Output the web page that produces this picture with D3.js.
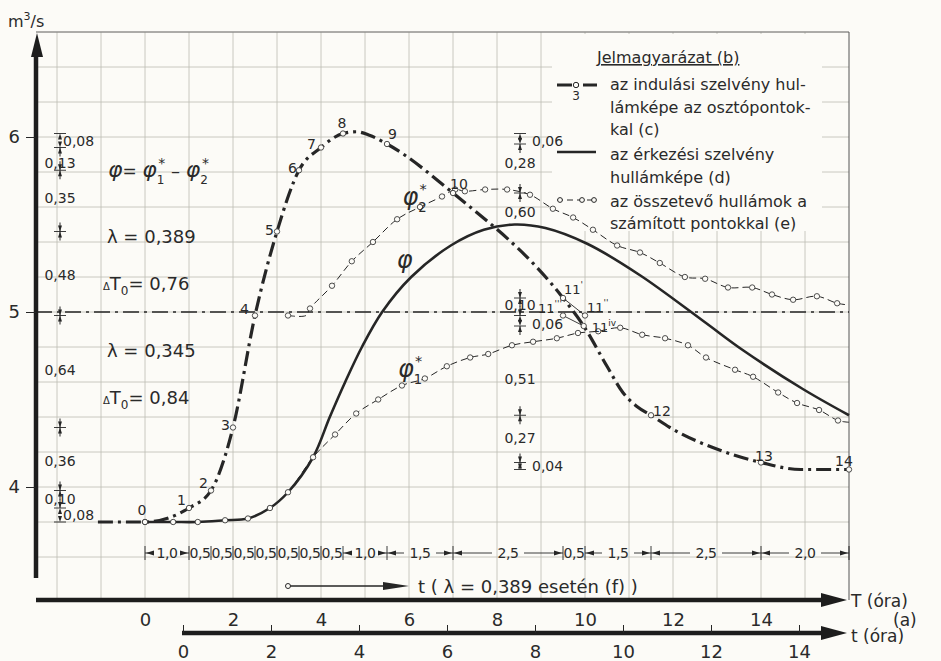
<!DOCTYPE html>
<html>
<head>
<meta charset="utf-8">
<script src="https://cdn.jsdelivr.net/npm/d3@7"></script>
<style>
  body { margin: 0; background: #fcfbf7; }
  text { font-family: "DejaVu Sans", sans-serif; fill: #2a2a2a; }
</style>
</head>
<body>
<div id="chart"></div>
<script>
// values: T in hours, Q in m3/s

// (c) wave of the starting section, division points 0..14 ("" = curve node only)
var cT   = [-1.07, 0, 1, 1.5, 2, 2.5, 3, 3.5, 4, 4.5, 4.8, 5.1, 5.5, 7, 9.5, 9.97, 10.5, 10.86, 11.18, 11.5, 11.93, 13.07, 14, 14.9, 16];
var cQ   = [3.80, 3.80, 3.88, 3.98, 4.34, 4.98, 5.46, 5.81, 5.94, 6.02, 6.03, 6.01, 5.96, 5.68, 5.08, 4.92, 4.69, 4.54, 4.46, 4.41, 4.34, 4.21, 4.14, 4.10, 4.10];
var cLab = ["", "0", "1", "2", "3", "4", "5", "6", "7", "8", "", "", "9", "10", "", "", "", "", "", "12", "", "", "13", "", "14"];

// alternative positions of division point 11
var c11T   = [9.5, 10.0, 9.5, 9.97];
var c11Q   = [5.08, 4.98, 4.98, 4.92];
var c11Sup = ["'", "''", "'''", "iv"];

// (d) wave of the arriving section
var dT = [0, 0.64, 1.2, 1.82, 2.34, 2.84, 3.25, 3.82, 4.2, 4.55, 4.93, 5.39, 6.05, 6.95, 7.7, 8.4, 9.1, 10.05, 11.25, 12.68, 13.6, 14.95, 16];
var dQ = [3.80, 3.80, 3.80, 3.81, 3.82, 3.88, 3.97, 4.17, 4.40, 4.60, 4.80, 5.00, 5.20, 5.38, 5.47, 5.50, 5.48, 5.39, 5.21, 4.95, 4.78, 4.56, 4.41];

// (e) component waves with computed points
var p1T = [0, 0.64, 1.2, 1.82, 2.34, 2.84, 3.25, 3.82, 4.32, 4.80, 5.30, 5.84, 6.36, 6.86, 7.39, 7.80, 8.34, 8.82, 9.36, 9.84, 10.30, 10.80, 11.30, 11.82, 12.34, 12.75, 13.41, 13.82, 14.39, 14.82, 15.32, 15.75, 16];
var p1Q = [3.80, 3.80, 3.80, 3.81, 3.82, 3.88, 3.97, 4.17, 4.30, 4.42, 4.50, 4.58, 4.62, 4.69, 4.74, 4.76, 4.81, 4.83, 4.85, 4.88, 4.89, 4.91, 4.87, 4.85, 4.81, 4.74, 4.67, 4.63, 4.54, 4.48, 4.44, 4.38, 4.37];
var p2T = [3.25, 3.66, 3.75, 4.25, 4.70, 5.18, 5.73, 6.25, 6.75, 7.05, 7.27, 7.73, 8.23, 8.75, 9.27, 9.73, 10.18, 10.73, 11.25, 11.70, 12.27, 12.73, 13.25, 13.80, 14.25, 14.73, 15.27, 15.73, 16];
var p2Q = [4.98, 4.98, 5.02, 5.15, 5.29, 5.40, 5.53, 5.60, 5.66, 5.70, 5.69, 5.70, 5.70, 5.67, 5.59, 5.54, 5.47, 5.38, 5.34, 5.28, 5.20, 5.19, 5.14, 5.14, 5.10, 5.07, 5.09, 5.05, 5.04];

// dimension marks (left column and middle column)
var leftLevels = [6.02, 5.94, 5.81, 5.46, 4.98, 4.34, 3.98, 3.88, 3.80];
var leftLabels = ["0,08", "0,13", "0,35", "0,48", "0,64", "0,36", "0,10", "0,08"];
var leftLabelQ = [5.98, 5.85, 5.65, 5.21, 4.67, 4.15, 3.93, 3.84];
var midLevels  = [6.02, 5.96, 5.68, 5.08, 4.98, 4.92, 4.41, 4.14, 4.10];
var midLabels  = ["0,06", "0,28", "0,60", "0,10", "0,06", "0,51", "0,27", "0,04"];
var midLabelQ  = [5.98, 5.85, 5.57, 5.04, 4.93, 4.62, 4.28, 4.12];

// time steps between division points
var stepLen    = [1, 0.5, 0.5, 0.5, 0.5, 0.5, 0.5, 0.5, 1, 1.5, 2.5, 0.5, 1.5, 2.5, 2];
var stepLabels = ["1,0", "0,5", "0,5", "0,5", "0,5", "0,5", "0,5", "0,5", "1,0", "1,5", "2,5", "0,5", "1,5", "2,5", "2,0"];

// axis ticks
var qTicks = [4, 5, 6];
var TTicks = [0, 2, 4, 6, 8, 10, 12, 14];
var tTicks = [0, 2, 4, 6, 8, 10, 12, 14];

var ink = "#262626";
var W = 941, H = 661;

var svg = d3.select("#chart").append("svg")
    .attr("width", W).attr("height", H)
    .style("background", "#fcfbf7");

var x  = d3.scaleLinear().domain([0, 16]).range([145, 849]);
var y  = d3.scaleLinear().domain([4, 6]).range([487, 137]);
var xt = d3.scaleLinear().domain([0, 16]).range([183, 887]);

var yTop = y(6.6), axisY = 600, tAxisY = 633, yAxisX = 36;

// grid
var grid = svg.append("g").attr("stroke", "#bdbcb3").attr("stroke-width", 0.8);
d3.range(-2, 16).forEach(function(t) {
  grid.append("line").attr("x1", x(t)).attr("x2", x(t)).attr("y1", yTop).attr("y2", axisY);
});
d3.range(18, 34).forEach(function(k) {
  var v = k / 5;
  grid.append("line").attr("x1", yAxisX).attr("x2", x(16)).attr("y1", y(v)).attr("y2", y(v));
});
svg.append("line").attr("x1", yAxisX).attr("x2", x(16)).attr("y1", yTop).attr("y2", yTop)
  .attr("stroke", "#777").attr("stroke-width", 1);
svg.append("line").attr("x1", x(16)).attr("x2", x(16)).attr("y1", yTop).attr("y2", axisY)
  .attr("stroke", "#555").attr("stroke-width", 1);

// legend background
svg.append("rect").attr("x", 552).attr("y", yTop + 2).attr("width", 270).attr("height", 197)
  .attr("fill", "#fcfbf7");

// Q = 5 reference line
svg.append("line").attr("x1", yAxisX).attr("x2", x(16)).attr("y1", y(5)).attr("y2", y(5))
  .attr("stroke", ink).attr("stroke-width", 1.3).attr("stroke-dasharray", "16,5,3,5");

var smooth = d3.line()
  .x(function(d) { return x(d[0]); })
  .y(function(d) { return y(d[1]); })
  .curve(d3.curveCatmullRom.alpha(0.5));
var mono = d3.line()
  .x(function(d) { return x(d[0]); })
  .y(function(d) { return y(d[1]); })
  .curve(d3.curveMonotoneX);

function pairs(a, b) { return a.map(function(v, i) { return [v, b[i]]; }); }

// component waves (dashed)
var p1 = pairs(p1T, p1Q), p2 = pairs(p2T, p2Q);
[p1, p2].forEach(function(p) {
  svg.append("path").datum(p).attr("d", smooth)
    .attr("fill", "none").attr("stroke", ink).attr("stroke-width", 1)
    .attr("stroke-dasharray", "7,4");
});

// arriving wave (solid)
svg.append("path").datum(pairs(dT, dQ)).attr("d", smooth)
  .attr("fill", "none").attr("stroke", ink).attr("stroke-width", 2.6);

// starting wave (dash-dot)
var cp = pairs(cT, cQ);
svg.append("path").datum(cp).attr("d", mono)
  .attr("fill", "none").attr("stroke", ink).attr("stroke-width", 3.2)
  .attr("stroke-dasharray", "15,5,3,5");

// point 11 alternatives with their connectors
svg.append("line").attr("x1", x(c11T[0])).attr("y1", y(c11Q[0])).attr("x2", x(c11T[1])).attr("y2", y(c11Q[1]))
  .attr("stroke", ink).attr("stroke-width", 0.9);
svg.append("line").attr("x1", x(c11T[2])).attr("y1", y(c11Q[2])).attr("x2", x(c11T[3])).attr("y2", y(c11Q[3]))
  .attr("stroke", ink).attr("stroke-width", 0.9);

// circles
function dots(data) {
  svg.append("g").selectAll("circle").data(data).enter().append("circle")
    .attr("cx", function(d) { return x(d[0]); })
    .attr("cy", function(d) { return y(d[1]); })
    .attr("r", 2.7).attr("fill", "#fcfbf7").attr("stroke", "#3a3a3a").attr("stroke-width", 0.9);
}
dots(p1.slice(0, p1.length - 1));
dots(p2.filter(function(d, i) { return i !== 1 && i !== p2.length - 1; }));
dots(cp.filter(function(d, i) { return cLab[i] !== ""; }));
dots(pairs(c11T, c11Q));

// point numbers
var labPos = {"0": [-3, -7, "middle"], "1": [-3, -3, "end"], "2": [-3, -3, "end"], "3": [-3, 2, "end"],
  "4": [-6, -2, "end"], "5": [-3, 3, "end"], "6": [-2, 3, "end"], "7": [-5, 1, "end"],
  "8": [-1, -6, "middle"], "9": [1, -5, "start"], "10": [-3, -4, "start"], "12": [2, 1, "start"],
  "13": [-6, -2, "start"], "14": [-5, -4, "middle"]};
svg.append("g").selectAll("text").data(cp.filter(function(d, i) { return cLab[i] !== ""; })).enter()
  .append("text")
  .each(function(d) {
    var lab = cLab[cp.indexOf(d)], o = labPos[lab];
    d3.select(this).attr("x", x(d[0]) + o[0]).attr("y", y(d[1]) + o[1])
      .attr("text-anchor", o[2]).text(lab);
  })
  .attr("font-size", 14);

var supPos = [[1, -4, "start"], [2, -4, "start"], [-1, -3, "end"], [8, 6, "start"]];
c11T.forEach(function(t, i) {
  var o = supPos[i];
  var tx = svg.append("text").attr("x", x(t) + o[0]).attr("y", y(c11Q[i]) + o[1])
    .attr("text-anchor", o[2]).attr("font-size", 13);
  tx.append("tspan").text("11");
  tx.append("tspan").attr("dy", -6).attr("font-size", 9).text(c11Sup[i]);
});

// curve names
function phi(xp, yp, sub, size) {
  var t = svg.append("text").attr("x", xp).attr("y", yp).attr("font-size", size);
  t.append("tspan").attr("font-style", "italic").text("φ");
  if (sub) {
    t.append("tspan").attr("dy", size * 0.3).attr("font-size", size * 0.55).text(sub);
    t.append("tspan").attr("dy", -size * 0.75).attr("dx", -size * 0.3).attr("font-size", size * 0.6).text("*");
  }
  return t;
}
phi(x(5.85), y(5.61), "2", 24);
phi(x(5.72), y(5.25), null, 24);
phi(x(5.75), y(4.63), "1", 24);

// formula and parameters
var f = svg.append("text").attr("x", 108).attr("y", 177).attr("font-size", 22);
f.append("tspan").attr("font-style", "italic").text("φ");
f.append("tspan").attr("font-size", 17).text("= ");
f.append("tspan").attr("font-style", "italic").text("φ");
f.append("tspan").attr("dy", 7).attr("font-size", 12).text("1");
f.append("tspan").attr("dy", -16).attr("dx", -6).attr("font-size", 14).text("*");
f.append("tspan").attr("dy", 9).attr("font-size", 18).text(" – ");
f.append("tspan").attr("font-style", "italic").text("φ");
f.append("tspan").attr("dy", 7).attr("font-size", 12).text("2");
f.append("tspan").attr("dy", -16).attr("dx", -6).attr("font-size", 14).text("*");

function param(yp, lam, dt) {
  svg.append("text").attr("x", 107).attr("y", yp).attr("font-size", 18).text("λ = " + lam);
  var t = svg.append("text").attr("x", 103).attr("y", yp + 47).attr("font-size", 18);
  t.append("tspan").attr("font-size", 10).text("Δ");
  t.append("tspan").text("T");
  t.append("tspan").attr("dy", 5).attr("font-size", 12).text("0");
  t.append("tspan").attr("dy", -5).text("= " + dt);
}
param(243, "0,389", "0,76");
param(357, "0,345", "0,84");

// vertical dimension marks
function vDims(xp, levels, labels, labelQ, smallDx) {
  var g = svg.append("g");
  levels.forEach(function(v) {
    g.append("line").attr("x1", xp - 6).attr("x2", xp + 6).attr("y1", y(v)).attr("y2", y(v))
      .attr("stroke", ink).attr("stroke-width", 0.9);
  });
  for (var i = 0; i < labels.length; i++) {
    var ya = y(levels[i]), yb = y(levels[i + 1]);
    g.append("path").attr("d", "M" + xp + "," + ya + "l-2,6h4z").attr("fill", ink);
    g.append("path").attr("d", "M" + xp + "," + yb + "l-2,-6h4z").attr("fill", ink);
    if (yb - ya > 14) {
      g.append("line").attr("x1", xp).attr("x2", xp).attr("y1", ya).attr("y2", ya + 9).attr("stroke", ink);
      g.append("line").attr("x1", xp).attr("x2", xp).attr("y1", yb - 9).attr("y2", yb).attr("stroke", ink);
    }
    var small = (levels[i] - levels[i + 1]) < 0.095;
    g.append("text").attr("x", small ? xp + smallDx : xp)
      .attr("y", y(labelQ[i]) + 5)
      .attr("text-anchor", small ? "start" : "middle")
      .attr("font-size", 14).text(labels[i]);
  }
}
vDims(60, leftLevels, leftLabels, leftLabelQ, 3);
vDims(520, midLevels, midLabels, midLabelQ, 12);

// chain of time steps
var ends = d3.cumsum(stepLen), rowY = 553;
var chain = svg.append("g");
stepLen.forEach(function(len, i) {
  var a = x(ends[i] - len), b = x(ends[i]), m = (a + b) / 2;
  chain.append("line").attr("x1", a).attr("x2", a).attr("y1", rowY - 7).attr("y2", rowY + 7)
    .attr("stroke", ink).attr("stroke-width", 0.9);
  if (len >= 1) {
    chain.append("line").attr("x1", a).attr("x2", m - 16).attr("y1", rowY).attr("y2", rowY)
      .attr("stroke", ink).attr("stroke-width", 0.9);
    chain.append("line").attr("x1", m + 16).attr("x2", b).attr("y1", rowY).attr("y2", rowY)
      .attr("stroke", ink).attr("stroke-width", 0.9);
    chain.append("path").attr("d", "M" + (a + 1) + "," + rowY + "l8,-2.5v5z").attr("fill", ink);
    chain.append("path").attr("d", "M" + (b - 1) + "," + rowY + "l-8,-2.5v5z").attr("fill", ink);
  }
  chain.append("text").attr("x", m).attr("y", rowY + 5).attr("text-anchor", "middle")
    .attr("font-size", 14).attr("letter-spacing", -0.5).text(stepLabels[i]);
});
chain.append("line").attr("x1", x(16)).attr("x2", x(16)).attr("y1", rowY - 7).attr("y2", rowY + 7)
  .attr("stroke", ink);

// t shift arrow
svg.append("line").attr("x1", x(3.25)).attr("x2", x(5.6)).attr("y1", 586).attr("y2", 586)
  .attr("stroke", ink).attr("stroke-width", 1.6);
svg.append("circle").attr("cx", x(3.25)).attr("cy", 586).attr("r", 2.5)
  .attr("fill", "#fcfbf7").attr("stroke", ink);
svg.append("path").attr("d", "M" + x(6) + ",586l-26,-4v8z").attr("fill", ink);
svg.append("text").attr("x", 418).attr("y", 593).attr("font-size", 18)
  .text("t ( λ = 0,389 esetén (f) )");

// axes
svg.append("line").attr("x1", yAxisX).attr("x2", yAxisX).attr("y1", 54).attr("y2", 578)
  .attr("stroke", "#1d1d1d").attr("stroke-width", 4.5);
svg.append("path").attr("d", "M" + (yAxisX + 1) + ",33l-6,24h12z").attr("fill", "#1d1d1d");
svg.append("line").attr("x1", yAxisX).attr("x2", 826).attr("y1", axisY).attr("y2", axisY)
  .attr("stroke", "#1d1d1d").attr("stroke-width", 4.5);
svg.append("path").attr("d", "M847," + axisY + "l-26,-7v14z").attr("fill", "#1d1d1d");
svg.append("line").attr("x1", xt(0) - 1).attr("x2", 826).attr("y1", tAxisY).attr("y2", tAxisY)
  .attr("stroke", "#1d1d1d").attr("stroke-width", 4.5);
svg.append("path").attr("d", "M847," + tAxisY + "l-26,-7v14z").attr("fill", "#1d1d1d");

var yAx = svg.append("g").attr("transform", "translate(" + yAxisX + ",0)")
  .call(d3.axisLeft(y).tickValues(qTicks).tickSizeInner(10).tickSizeOuter(0).tickPadding(6)
    .tickFormat(d3.format("d")));
var TAx = svg.append("g").attr("transform", "translate(0," + axisY + ")")
  .call(d3.axisBottom(x).tickValues(TTicks).tickSize(0).tickPadding(13).tickFormat(d3.format("d")));
var tAx = svg.append("g").attr("transform", "translate(0," + tAxisY + ")")
  .call(d3.axisBottom(xt).tickValues(tTicks).tickSizeInner(-8).tickSizeOuter(0).tickPadding(12)
    .tickFormat(d3.format("d")));
[yAx, TAx, tAx].forEach(function(g) {
  g.select(".domain").remove();
  g.selectAll("line").attr("stroke", ink).attr("stroke-width", 1);
  g.selectAll("text").attr("font-size", 18).attr("fill", "#2a2a2a")
    .style("font-family", "DejaVu Sans, sans-serif");
});

var u = svg.append("text").attr("x", 8).attr("y", 27).attr("font-size", 16);
u.append("tspan").text("m");
u.append("tspan").attr("dy", -7).attr("font-size", 11).text("3");
u.append("tspan").attr("dy", 7).text("/s");

svg.append("text").attr("x", 851).attr("y", 607).attr("font-size", 17).text("T (óra)");
svg.append("text").attr("x", 893).attr("y", 626).attr("font-size", 17).text("(a)");
svg.append("text").attr("x", 851).attr("y", 642).attr("font-size", 17).text("t (óra)");

// legend
var lg = svg.append("g");
lg.append("text").attr("x", 597).attr("y", 63).attr("font-size", 16).attr("text-decoration", "underline")
  .text("Jelmagyarázat (b)");
lg.append("line").attr("x1", 557).attr("x2", 597).attr("y1", 85).attr("y2", 85)
  .attr("stroke", ink).attr("stroke-width", 3.2).attr("stroke-dasharray", "15,4,3,4");
lg.append("circle").attr("cx", 576).attr("cy", 85).attr("r", 2.7).attr("fill", "#fcfbf7").attr("stroke", ink);
lg.append("text").attr("x", 576).attr("y", 100).attr("text-anchor", "middle").attr("font-size", 12).text("3");
lg.append("line").attr("x1", 557).attr("x2", 596).attr("y1", 152).attr("y2", 152)
  .attr("stroke", ink).attr("stroke-width", 2.6);
lg.append("line").attr("x1", 557).attr("x2", 596).attr("y1", 200).attr("y2", 200)
  .attr("stroke", ink).attr("stroke-width", 1).attr("stroke-dasharray", "6,4");
[560, 582, 594].forEach(function(cx) {
  lg.append("circle").attr("cx", cx).attr("cy", 200).attr("r", 2.4).attr("fill", "#fcfbf7").attr("stroke", ink);
});
var legendLines = [
  ["az indulási szelvény hul-", 90], ["lámképe az osztópontok-", 113], ["kal (c)", 135],
  ["az érkezési szelvény", 160], ["hullámképe (d)", 183],
  ["az összetevő hullámok a", 207], ["számított pontokkal (e)", 229]];
legendLines.forEach(function(l) {
  lg.append("text").attr("x", 610).attr("y", l[1]).attr("font-size", 16).text(l[0]);
});
</script>
</body>
</html>
